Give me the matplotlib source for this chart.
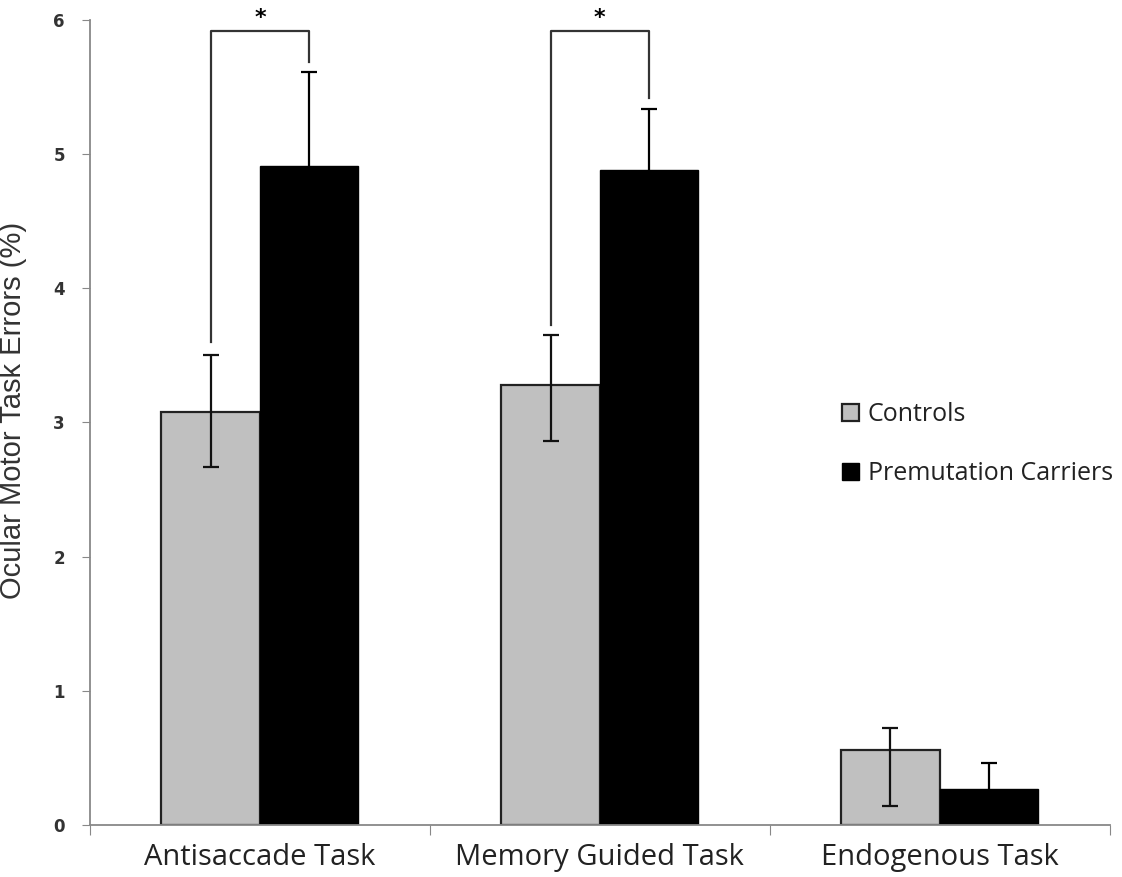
import numpy as np
import matplotlib.pyplot as plt

# task error rates (%) per group
tasks = ["Antisaccade Task", "Memory Guided Task", "Endogenous Task"]
controls = [3.08, 3.28, 0.56]
controls_err_lo = [0.41, 0.42, 0.42]
controls_err_hi = [0.42, 0.37, 0.16]
carriers = [4.91, 4.88, 0.27]
carriers_err_lo = [0.70, 0.46, 0.19]
carriers_err_hi = [0.70, 0.46, 0.19]

# significance brackets: (task index, left drop end, right drop end, top)
sig_pairs = [(0, 3.60, 5.69, 5.92), (1, 3.73, 5.42, 5.92)]

fig = plt.figure(figsize=(11.22, 8.77), dpi=100)
ax = fig.add_axes([0.0802, 0.0593, 0.9088, 0.9179])

x = np.arange(len(tasks))
w = 0.29

ax.bar(x - w / 2, controls, w, color="#c0c0c0", edgecolor="#222222",
       linewidth=1.6, label="Controls", zorder=2)
ax.bar(x + w / 2, carriers, w, color="black", edgecolor="black",
       linewidth=1.0, label="Premutation Carriers", zorder=2)
ax.errorbar(x - w / 2, controls, yerr=[controls_err_lo, controls_err_hi],
            fmt="none", ecolor="#111111", elinewidth=1.6, capsize=6, capthick=1.6, zorder=3)
ax.errorbar(x + w / 2, carriers, yerr=[carriers_err_lo, carriers_err_hi],
            fmt="none", ecolor="black", elinewidth=1.6, capsize=6, capthick=1.6, zorder=3)

for i, ylo_left, ylo_right, ytop in sig_pairs:
    xl, xr = i - w / 2, i + w / 2
    ax.plot([xl, xl, xr, xr], [ylo_left, ytop, ytop, ylo_right],
            color="#333333", linewidth=1.6, zorder=4)
    ax.text(i, ytop + 0.02, "*", ha="center", va="bottom", fontsize=16,
            fontweight="bold", color="black")

ax.set_xlim(-0.5, 2.5)
ax.set_ylim(0, 6)
ax.set_yticks(range(7))
ax.set_xticks([-0.5, 0.5, 1.5, 2.5])
ax.set_xticklabels([])
ax.set_xticks(x, minor=True)
ax.set_xticklabels(tasks, minor=True, fontsize=21, family=["Open Sans", "DejaVu Sans"])
ax.tick_params(axis="x", which="minor", length=0, pad=13, colors="#222222")
ax.tick_params(axis="x", which="major", length=7, color="#888888", direction="out")
ax.tick_params(axis="y", length=6, color="#888888", direction="out", labelsize=12,
               pad=12, labelcolor="#333333")
for lbl in ax.get_yticklabels():
    lbl.set_fontweight("bold")

for s in ["top", "right"]:
    ax.spines[s].set_visible(False)
for s in ["left", "bottom"]:
    ax.spines[s].set_color("#888888")
    ax.spines[s].set_linewidth(1.3)

ax.set_ylabel("Ocular Motor Task Errors (%)", fontsize=21, color="#333333",
              family=["Liberation Sans", "DejaVu Sans"])
ax.yaxis.set_label_coords(-0.062, 0.515)

leg = ax.legend(loc="center left", bbox_to_anchor=(0.715, 0.473), frameon=False,
                handlelength=0.7, handleheight=0.7, handletextpad=0.35,
                labelspacing=1.35, prop={"family": ["Open Sans", "DejaVu Sans"], "size": 18})
for t in leg.get_texts():
    t.set_color("#222222")

fig.savefig("out.png", dpi=100)
